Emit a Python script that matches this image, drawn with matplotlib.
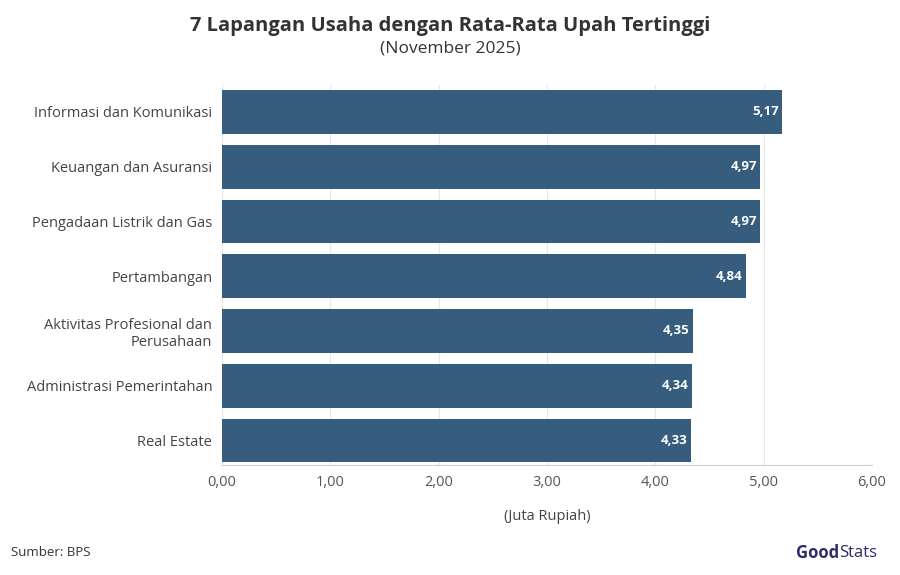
import matplotlib.pyplot as plt

categories = ["Informasi dan Komunikasi", "Keuangan dan Asuransi", "Pengadaan Listrik dan Gas",
              "Pertambangan", "Aktivitas Profesional dan\nPerusahaan", "Administrasi Pemerintahan",
              "Real Estate"]
values = [5.17, 4.97, 4.97, 4.84, 4.35, 4.34, 4.33]
xticks = [0, 1, 2, 3, 4, 5, 6]

plt.rcParams['font.family'] = ['Open Sans', 'DejaVu Sans']

fig = plt.figure(figsize=(9, 5.75), dpi=100)
ax = fig.add_axes([0.2467, 0.191, 0.722, 0.661])

y = list(range(len(categories)))
ax.barh(y, values, height=0.8, color='#365d7e')
ax.set_ylim(6.45, -0.49)
ax.set_xlim(0, 6)
ax.set_xticks(xticks)
ax.set_xticklabels([f"{t:.2f}".replace('.', ',') for t in xticks], fontsize=10.5, color='#555555')
ax.set_yticks(y)
ax.set_yticklabels(categories, fontsize=10.5, color='#444444')
ax.tick_params(axis='both', length=0, pad=7)
ax.grid(axis='x', color='#e6e6e6', linewidth=0.8)
ax.set_axisbelow(True)
for s in ax.spines.values():
    s.set_visible(False)
ax.spines['bottom'].set_visible(True)
ax.spines['bottom'].set_color('#cccccc')

for yi, v in zip(y, values):
    ax.text(v - 0.03, yi, f"{v:.2f}".replace('.', ','), ha='right', va='center',
            color='white', fontsize=9.5, fontweight='bold')

ax.set_xlabel("(Juta Rupiah)", fontsize=10.5, color='#444444', labelpad=14)

fig.text(0.5, 0.955, "7 Lapangan Usaha dengan Rata-Rata Upah Tertinggi", ha='center', va='center',
         fontsize=14.5, fontweight='bold', color='#333333')
fig.text(0.5, 0.915, "(November 2025)", ha='center', va='center', fontsize=12.5, color='#333333')
fig.text(0.012, 0.04, "Sumber: BPS", fontsize=9.5, color='#333333', va='center')
fig.text(0.932, 0.038, "Good", fontsize=12, fontweight='bold', color='#2e2a6b', ha='right', va='center')
fig.text(0.932, 0.038, "Stats", fontsize=12, color='#2e2a6b', ha='left', va='center')

fig.savefig("out.png", dpi=100)
